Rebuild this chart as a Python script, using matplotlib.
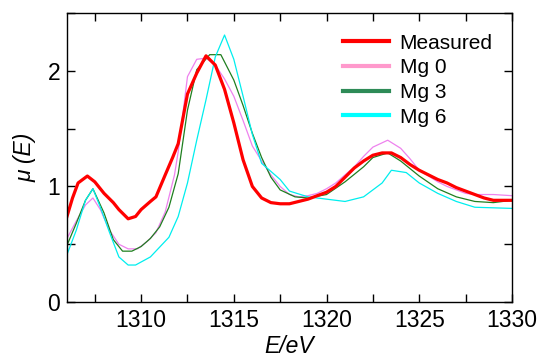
import matplotlib
matplotlib.use("Agg")
import matplotlib.pyplot as plt
from matplotlib.lines import Line2D
from matplotlib.ticker import MultipleLocator

plt.rcParams['font.family'] = ['Liberation Sans', 'DejaVu Sans']

meas_E = [1306.0, 1306.3, 1306.6, 1307.1, 1307.5, 1308.0, 1308.5, 1308.8, 1309.3, 1309.7,
          1310.0, 1310.5, 1310.8, 1311.3, 1311.7, 1312.0, 1312.5, 1313.0, 1313.5, 1314.0,
          1314.5, 1315.0, 1315.5, 1316.0, 1316.5, 1317.0, 1317.5, 1318.0, 1318.5, 1319.0,
          1319.5, 1320.0, 1320.5, 1321.0, 1321.5, 1322.0, 1322.5, 1323.0, 1323.5, 1324.0,
          1324.5, 1325.0, 1325.5, 1326.0, 1326.5, 1327.0, 1327.5, 1328.0, 1328.5, 1329.0,
          1329.5, 1330.0]
meas_mu = [0.74, 0.90, 1.03, 1.09, 1.04, 0.94, 0.86, 0.80, 0.72, 0.74,
           0.80, 0.87, 0.91, 1.10, 1.25, 1.37, 1.80, 1.98, 2.13, 2.05,
           1.84, 1.55, 1.23, 1.00, 0.90, 0.86, 0.85, 0.85, 0.87, 0.89,
           0.92, 0.95, 1.00, 1.08, 1.16, 1.22, 1.27, 1.29, 1.29, 1.25,
           1.19, 1.14, 1.10, 1.06, 1.03, 0.99, 0.96, 0.93, 0.90, 0.88,
           0.88, 0.88]

mg0_E = [1306.0, 1306.5, 1307.0, 1307.4, 1307.8, 1308.3, 1308.8, 1309.3, 1309.8, 1310.3,
         1310.8, 1311.3, 1311.8, 1312.0, 1312.5, 1313.0, 1313.5, 1314.0, 1314.5, 1315.0,
         1315.5, 1316.0, 1316.5, 1317.0, 1317.5, 1318.0, 1318.5, 1319.0, 1319.5, 1320.0,
         1320.5, 1321.0, 1321.5, 1322.0, 1322.5, 1323.3, 1324.0, 1324.5, 1325.0, 1325.5,
         1326.0, 1326.5, 1327.0, 1327.5, 1328.0, 1329.0, 1330.0]
mg0_mu = [0.55, 0.70, 0.84, 0.90, 0.80, 0.62, 0.50, 0.46, 0.46, 0.52,
          0.60, 0.78, 1.10, 1.30, 1.95, 2.10, 2.11, 2.05, 1.93, 1.78,
          1.57, 1.35, 1.22, 1.10, 1.00, 0.93, 0.91, 0.92, 0.94, 0.98,
          1.03, 1.10, 1.17, 1.26, 1.34, 1.40, 1.33, 1.24, 1.14, 1.09,
          1.04, 1.00, 0.97, 0.94, 0.93, 0.93, 0.92]

mg3_E = [1306.0, 1306.5, 1307.0, 1307.4, 1308.0, 1308.5, 1309.0, 1309.5, 1310.0, 1310.5,
         1311.0, 1311.5, 1312.0, 1312.5, 1313.0, 1313.7, 1314.3, 1315.0, 1315.5, 1316.0,
         1316.5, 1317.0, 1317.5, 1318.3, 1319.0, 1320.0, 1321.0, 1322.0, 1322.5, 1323.3,
         1324.0, 1325.0, 1326.0, 1327.0, 1328.0, 1329.0, 1330.0]
mg3_mu = [0.49, 0.68, 0.88, 0.98, 0.77, 0.54, 0.44, 0.44, 0.48, 0.55,
          0.65, 0.82, 1.11, 1.66, 2.01, 2.14, 2.14, 1.92, 1.70, 1.46,
          1.25, 1.08, 0.97, 0.91, 0.90, 0.93, 1.04, 1.17, 1.25, 1.29,
          1.22, 1.09, 0.98, 0.91, 0.87, 0.86, 0.88]

mg6_E = [1306.0, 1306.5, 1307.0, 1307.4, 1307.8, 1308.3, 1308.8, 1309.3, 1309.7, 1310.5,
         1311.5, 1312.0, 1312.5, 1313.0, 1313.5, 1314.0, 1314.5, 1315.0, 1315.5, 1316.0,
         1316.5, 1317.5, 1318.0, 1319.0, 1320.0, 1321.0, 1322.0, 1323.0, 1323.5, 1324.3,
         1325.0, 1326.0, 1327.0, 1328.0, 1330.0]
mg6_mu = [0.41, 0.62, 0.88, 0.98, 0.82, 0.60, 0.39, 0.32, 0.32, 0.39,
          0.56, 0.74, 1.03, 1.40, 1.75, 2.12, 2.31, 2.10, 1.78, 1.45,
          1.20, 1.06, 0.96, 0.91, 0.89, 0.87, 0.91, 1.03, 1.14, 1.12,
          1.03, 0.94, 0.87, 0.82, 0.81]

labels = ["Measured", "Mg 0", "Mg 3", "Mg 6"]
plot_colors = ["#ff0000", "#ee82ee", "#1f7f1f", "#00eeee"]
legend_colors = ["#ff0000", "#ff99cc", "#2e8b57", "#00ffff"]

fig = plt.figure(figsize=(5.4, 3.63), dpi=100)
ax = fig.add_axes([0.124, 0.168, 0.824, 0.796])

ax.plot(mg0_E, mg0_mu, color=plot_colors[1], lw=0.9)
ax.plot(mg3_E, mg3_mu, color=plot_colors[2], lw=0.9)
ax.plot(mg6_E, mg6_mu, color=plot_colors[3], lw=0.9)
ax.plot(meas_E, meas_mu, color=plot_colors[0], lw=2.3)

ax.set_xlim(1306, 1330)
ax.set_ylim(0, 2.5)
ax.xaxis.set_major_locator(MultipleLocator(5))
ax.xaxis.set_minor_locator(MultipleLocator(2.5))
ax.yaxis.set_major_locator(MultipleLocator(1))
ax.yaxis.set_minor_locator(MultipleLocator(0.5))
ax.tick_params(which='both', direction='in', top=True, right=True, length=6, width=1,
               labelsize=16.5, pad=5)
for s in ax.spines.values():
    s.set_linewidth(1)

ax.set_xlabel("E/eV", fontsize=16.5, style='italic', labelpad=2)
ax.set_ylabel("μ (E)", fontsize=16.5, style='italic', labelpad=8)

handles = [Line2D([], [], color=c, lw=3) for c in legend_colors]
ax.legend(handles, labels, loc='upper right', bbox_to_anchor=(0.985, 0.972), frameon=False,
          fontsize=15, handlelength=2.2, handletextpad=0.5, labelspacing=0.27,
          borderaxespad=0.2)

fig.savefig("out.png", dpi=100)
